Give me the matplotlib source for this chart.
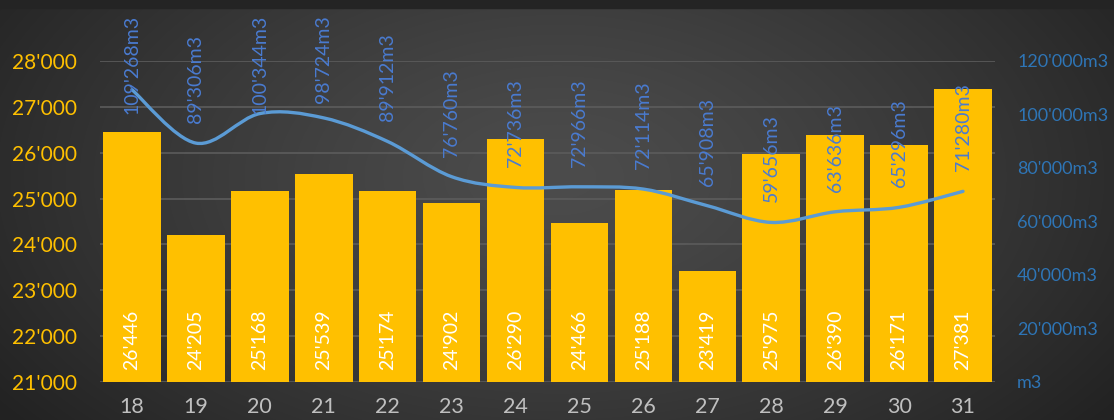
import numpy as np
import matplotlib
matplotlib.use("Agg")
import matplotlib.pyplot as plt
from matplotlib.path import Path
from matplotlib.patches import PathPatch, Rectangle
from matplotlib.ticker import FixedLocator, FuncFormatter

days = ["18", "19", "20", "21", "22", "23", "24", "25", "26", "27", "28", "29", "30", "31"]
counts = [26446, 24205, 25168, 25539, 25174, 24902, 26290, 24466, 25188, 23419, 25975, 26390, 26171, 27381]
volumes = [109268, 89306, 100344, 98724, 89912, 76760, 72736, 72966, 72114, 65908, 59656, 63636, 65296, 71280]

FONT = "Lato"
plt.rcParams["font.family"] = [FONT, "DejaVu Sans"]

W, H, DPI = 1114, 420, 100
fig = plt.figure(figsize=(W / DPI, H / DPI), dpi=DPI)

# background radial gradient
bg = fig.add_axes([0, 0, 1, 1], zorder=-10)
yy, xx = np.mgrid[0:H, 0:W]
cx, cy = W * 0.5, H * 0.42
r = np.sqrt(((xx - cx) / (W * 0.62)) ** 2 + ((yy - cy) / (H * 0.95)) ** 2)
r = np.clip(r, 0, 1)
v = 0x4c - (0x4c - 0x22) * r ** 1.3
img = np.dstack([v, v, v]) / 255.0
bg.imshow(img, aspect="auto", extent=[0, 1, 0, 1], origin="upper")
bg.add_patch(Rectangle((0, 1 - 8 / H), 1, 8 / H, color="#242424", transform=bg.transAxes))
bg.set_xlim(0, 1)
bg.set_ylim(0, 1)
bg.axis("off")

L, R, B, T = 100 / W, 995 / W, 1 - 382 / H, 1 - 61 / H
ax = fig.add_axes([L, B, R - L, T - B])
ax.patch.set_alpha(0)
x = np.arange(len(days))
ax.bar(x, counts, width=0.9, color="#FFC000", zorder=2)
ax.set_xlim(-0.5, len(days) - 0.5)
ax.set_ylim(21000, 28000)
ax.yaxis.set_major_locator(FixedLocator(range(21000, 28001, 1000)))
ax.yaxis.set_major_formatter(FuncFormatter(lambda v, p: f"{int(v):,}".replace(",", "'")))
ax.set_xticks(x)
ax.set_xticklabels(days)
for s in ax.spines.values():
    s.set_visible(False)
ax.grid(axis="y", color="#5c5c5c", linewidth=1.2, zorder=0)
ax.tick_params(axis="y", length=0, pad=16.5, labelsize=15, labelcolor="#FFC000")
ax.tick_params(axis="x", length=0, pad=11, labelsize=15.5, labelcolor="#BFBFBF")

for xi, c in zip(x, counts):
    ax.text(xi, 21000, f"{c:,}".replace(",", "'"), rotation=90, ha="center", va="bottom",
            color="white", fontsize=14, zorder=5,
            transform=ax.transData + matplotlib.transforms.ScaledTranslation(0, 12 / DPI, fig.dpi_scale_trans))

ax2 = ax.twinx()
ax2.set_ylim(0, 120000)
ax2.yaxis.set_major_locator(FixedLocator(range(0, 120001, 20000)))
ax2.yaxis.set_major_formatter(FuncFormatter(lambda v, p: ("m3" if v == 0 else f"{int(v):,}".replace(",", "'") + "m3")))
for s in ax2.spines.values():
    s.set_visible(False)
ax2.tick_params(axis="y", length=0, pad=16, labelsize=13, labelcolor="#2E75B6")

# smooth line (Bezier through the data points, Excel-like smoothing)
pts = np.column_stack([x, volumes]).astype(float)
verts = [tuple(pts[0])]
codes = [Path.MOVETO]
n = len(pts)
for i in range(n - 1):
    p0 = pts[i - 1] if i > 0 else pts[i]
    p1 = pts[i]
    p2 = pts[i + 1]
    p3 = pts[i + 2] if i + 2 < n else pts[i + 1]
    c1 = p1 + (p2 - p0) / 6.0
    c2 = p2 - (p3 - p1) / 6.0
    verts += [tuple(c1), tuple(c2), tuple(p2)]
    codes += [Path.CURVE4] * 3
ax2.add_patch(PathPatch(Path(verts, codes), facecolor="none", edgecolor="#5B9BD5", linewidth=2.4,
                        capstyle="round", zorder=6))

labels = []
for xi, vol in zip(x, volumes):
    t = ax2.annotate(f"{vol:,}".replace(",", "'") + "m3", xy=(xi, vol), xytext=(0, 20), textcoords="offset pixels",
                     rotation=90, ha="center", va="bottom", color="#4A7BD0", fontsize=14,
                     annotation_clip=False, zorder=7)
    labels.append(t)

fig.canvas.draw()
rend = fig.canvas.get_renderer()
top_limit = H - 15
for t in labels:
    bb = t.get_window_extent(rend)
    if bb.y1 > top_limit:
        dx, dy = t.xyann
        t.xyann = (dx, dy - (bb.y1 - top_limit))

fig.savefig("out.png", dpi=DPI)
